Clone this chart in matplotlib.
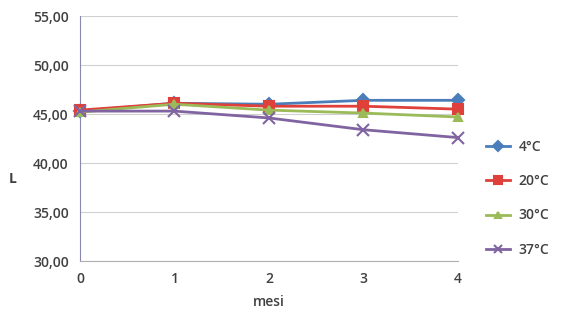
import numpy as np
import matplotlib.pyplot as plt

# mesi di conservazione
mesi = [0, 1, 2, 3, 4]
temperature = ["4°C", "20°C", "30°C", "37°C"]

L_4 = [45.3, 46.1, 46.0, 46.4, 46.4]
L_20 = [45.4, 46.1, 45.8, 45.8, 45.5]
L_30 = [45.2, 46.0, 45.4, 45.1, 44.7]
L_37 = [45.3, 45.3, 44.6, 43.4, 42.6]

serie = [L_4, L_20, L_30, L_37]
colori = ["#4a7ebb", "#e0403a", "#9bbb59", "#8064a2"]
marker = ["D", "s", "^", "x"]
msize = [6, 7, 6, 8]

plt.rcParams['font.family'] = ['Open Sans', 'DejaVu Sans']
testo = "#404040"

fig = plt.figure(figsize=(5.71, 3.2), dpi=100)
ax = fig.add_axes([0.14, 0.184, 0.662, 0.766])

for y, lab, c, m, s in zip(serie, temperature, colori, marker, msize):
    ax.plot(mesi, y, color=c, marker=m, markersize=s, lw=2, label=lab,
            clip_on=False, zorder=3, markeredgewidth=1.5)

ax.set_xlim(0, 4)
ax.set_ylim(30, 55)
ax.set_yticks(np.arange(30, 56, 5))
ax.set_yticklabels([("%.2f" % v).replace(".", ",") for v in np.arange(30, 56, 5)])
ax.set_xticks(mesi)
ax.yaxis.grid(True, color="#d0d0d0", lw=0.8)
ax.set_axisbelow(True)

for s in ["top", "right"]:
    ax.spines[s].set_visible(False)
ax.spines["left"].set_color("#8a8ab0")
ax.spines["left"].set_linestyle((0, (1, 1)))
ax.spines["bottom"].set_color("#b0b0b0")
ax.tick_params(length=0, labelsize=10, colors=testo, pad=8)
for t in ax.get_xticklabels() + ax.get_yticklabels():
    t.set_fontweight("semibold")

ax.set_xlabel("mesi", fontsize=10, color=testo, fontweight="semibold", labelpad=6)
# etichetta asse y
fig.text(0.022, 0.44, "L", fontsize=10, color=testo, fontweight="bold",
         ha="center", va="center")

leg = fig.legend(loc="center left", bbox_to_anchor=(0.83, 0.38), frameon=False,
                 handlelength=1.7, handletextpad=0.6, labelspacing=1.45,
                 fontsize=10, markerscale=0.8)
for t in leg.get_texts():
    t.set_color(testo)
    t.set_fontweight("semibold")

fig.savefig("out.png", dpi=100)
